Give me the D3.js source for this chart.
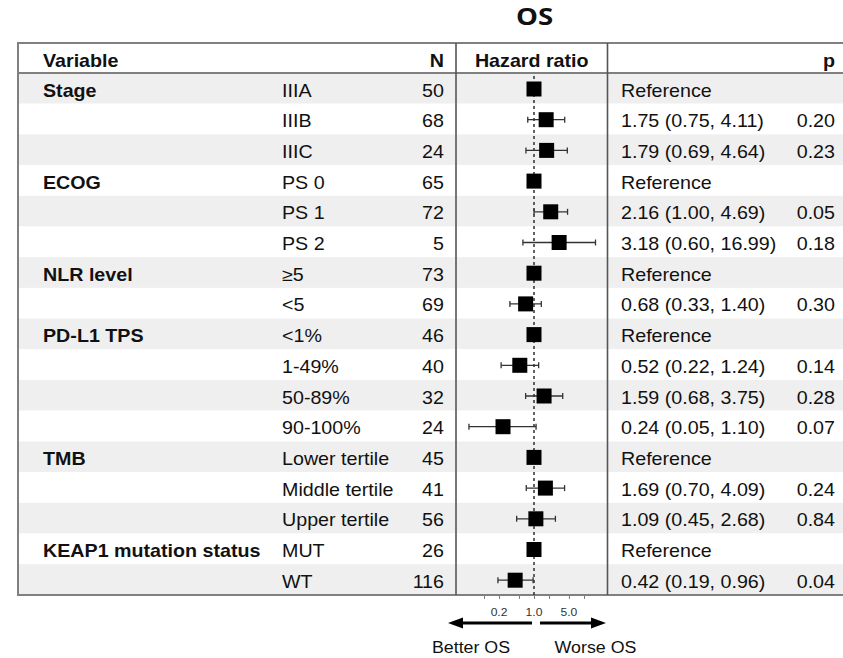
<!DOCTYPE html>
<html>
<head>
<meta charset="utf-8">
<script src="https://cdn.jsdelivr.net/npm/d3@7"></script>
<style>
  html, body { margin: 0; padding: 0; background: #fff; }
  svg { display: block; }
  text { font-family: "Liberation Sans", Arial, sans-serif; fill: #111; }
</style>
</head>
<body>
<svg id="chart" width="843" height="658"></svg>
<script>
// ---------------- data ----------------
const title = "OS";
const headerLabels = ["Variable", "N", "Hazard ratio", "p"];
const groupNames = ["Stage", "", "", "ECOG", "", "", "NLR level", "", "PD-L1 TPS", "", "", "", "TMB", "", "", "KEAP1 mutation status", ""];
const levelNames = ["IIIA", "IIIB", "IIIC", "PS 0", "PS 1", "PS 2", "≥5", "<5", "<1%", "1-49%", "50-89%", "90-100%", "Lower tertile", "Middle tertile", "Upper tertile", "MUT", "WT"];
const nValues = [50, 68, 24, 65, 72, 5, 73, 69, 46, 40, 32, 24, 45, 41, 56, 26, 116];
const hrValues = [1, 1.75, 1.79, 1, 2.16, 3.18, 1, 0.68, 1, 0.52, 1.59, 0.24, 1, 1.69, 1.09, 1, 0.42];
const ciLow = [null, 0.75, 0.69, null, 1.00, 0.60, null, 0.33, null, 0.22, 0.68, 0.05, null, 0.70, 0.45, null, 0.19];
const ciHigh = [null, 4.11, 4.64, null, 4.69, 16.99, null, 1.40, null, 1.24, 3.75, 1.10, null, 4.09, 2.68, null, 0.96];
const pValues = ["", "0.20", "0.23", "", "0.05", "0.18", "", "0.30", "", "0.14", "0.28", "0.07", "", "0.24", "0.84", "", "0.04"];
const tickValues = [0.1, 0.2, 0.5, 1, 2, 5, 10];
const tickLabels = ["0.2", "1.0", "5.0"];
const labelledTicks = [0.2, 1, 5];
const directionLabels = ["Better OS", "Worse OS"];

// ---------------- layout ----------------
const svg = d3.select("#chart");
const W = 843;
const tableLeft = 18, tableTop = 43, headerH = 30, rowH = 30.7;
const nRows = levelNames.length;
const tableBottom = tableTop + headerH + nRows * rowH;
const div1 = 456, div2 = 607.5;
const sx = 1.125;           // horizontal stretch of the text
const fs = 17.5;

const x = d3.scaleLog().domain([0.1, 10]).range([484, 584]);
const rowY = d3.scaleLinear().domain([0, nRows]).range([tableTop + headerH, tableBottom]);

function txt(g, xx, yy, s, anchor, weight, size, scale) {
  return g.append("text")
    .attr("transform", `translate(${xx},${yy}) scale(${scale || sx},1)`)
    .attr("text-anchor", anchor || "start")
    .style("font-size", (size || fs) + "px")
    .style("font-weight", weight || "normal")
    .text(s);
}

// row shading
svg.append("g").selectAll("rect").data(d3.range(nRows)).join("rect")
  .attr("x", tableLeft).attr("width", W - tableLeft)
  .attr("y", i => rowY(i)).attr("height", rowH)
  .attr("fill", i => i % 2 === 0 ? "#efefef" : "#ffffff");

// title
svg.append("text")
  .attr("transform", `translate(534.5,25) scale(1.15,1)`)
  .attr("text-anchor", "middle")
  .style("font-family", "'Open Sans', sans-serif")
  .style("font-weight", "bold").style("font-size", "24px")
  .text(title);

// header text
const hg = svg.append("g");
const headerBase = tableTop + 23.7;
txt(hg, 43, headerBase, headerLabels[0], "start", "bold");
txt(hg, 444, headerBase, headerLabels[1], "end", "bold");
txt(hg, (div1 + div2) / 2, headerBase, headerLabels[2], "middle", "bold");
txt(hg, 835, headerBase, headerLabels[3], "end", "bold");

// table text
const tg = svg.append("g");
d3.range(nRows).forEach(i => {
  const base = rowY(i) + 23.5;
  if (groupNames[i]) txt(tg, 43, base, groupNames[i], "start", "bold");
  txt(tg, 282, base, levelNames[i], "start");
  txt(tg, 444, base, String(nValues[i]), "end");
  if (ciLow[i] === null) {
    txt(tg, 621, base, "Reference", "start");
  } else {
    const f = d3.format(".2f");
    txt(tg, 621, base, `${f(hrValues[i])} (${f(ciLow[i])}, ${f(ciHigh[i])})`, "start");
    txt(tg, 835, base, pValues[i], "end");
  }
});

// table lines
const lg = svg.append("g").attr("fill", "none");
lg.append("line").attr("x1", tableLeft).attr("x2", W).attr("y1", tableTop).attr("y2", tableTop)
  .attr("stroke", "#808080").attr("stroke-width", 2);
lg.append("line").attr("x1", tableLeft).attr("x2", W).attr("y1", tableTop + headerH).attr("y2", tableTop + headerH)
  .attr("stroke", "#808080").attr("stroke-width", 2);
lg.append("line").attr("x1", tableLeft).attr("x2", W).attr("y1", tableBottom).attr("y2", tableBottom)
  .attr("stroke", "#808080").attr("stroke-width", 2);
lg.append("line").attr("x1", tableLeft).attr("x2", tableLeft).attr("y1", tableTop - 1).attr("y2", tableBottom + 1)
  .attr("stroke", "#808080").attr("stroke-width", 2);
[div1, div2].forEach(dx => {
  lg.append("line").attr("x1", dx).attr("x2", dx).attr("y1", tableTop).attr("y2", tableBottom)
    .attr("stroke", "#555").attr("stroke-width", 1.6);
});

// reference dashed line
svg.append("line")
  .attr("x1", x(1)).attr("x2", x(1))
  .attr("y1", tableTop + headerH + 3).attr("y2", tableBottom + 3)
  .attr("stroke", "#222").attr("stroke-width", 1.4)
  .attr("stroke-dasharray", "3,3");

// CIs and squares
const fg = svg.append("g");
const sq = 15, cap = 6;
d3.range(nRows).forEach(i => {
  const cy = rowY(i) + 16;
  if (ciLow[i] !== null) {
    fg.append("line").attr("x1", x(ciLow[i])).attr("x2", x(ciHigh[i]))
      .attr("y1", cy).attr("y2", cy).attr("stroke", "#333").attr("stroke-width", 1.3);
    [ciLow[i], ciHigh[i]].forEach(v => {
      fg.append("line").attr("x1", x(v)).attr("x2", x(v))
        .attr("y1", cy - cap / 2).attr("y2", cy + cap / 2)
        .attr("stroke", "#333").attr("stroke-width", 1.3);
    });
  }
  fg.append("rect").attr("x", x(hrValues[i]) - sq / 2).attr("y", cy - sq / 2)
    .attr("width", sq).attr("height", sq).attr("fill", "#000");
});

// axis
const axis = d3.axisBottom(x).tickValues(tickValues).tickSize(3).tickFormat("");
const ag = svg.append("g").attr("transform", `translate(0,${tableBottom + 1})`).call(axis);
ag.select(".domain").remove();
ag.selectAll(".tick line").attr("stroke", "#777");
const lab = svg.append("g");
labelledTicks.forEach((v, k) => {
  lab.append("text")
    .attr("transform", `translate(${x(v)},616) scale(1.1,1)`)
    .attr("text-anchor", "middle").style("font-size", "11px").style("fill", "#333")
    .text(tickLabels[k]);
});

// arrows
const arrowY = 623;
const ar = svg.append("g");
ar.append("line").attr("x1", 532).attr("x2", 460).attr("y1", arrowY).attr("y2", arrowY)
  .attr("stroke", "#000").attr("stroke-width", 3);
ar.append("path").attr("d", `M448,${arrowY} L463,${arrowY - 5.5} L463,${arrowY + 5.5} Z`).attr("fill", "#000");
ar.append("line").attr("x1", 540).attr("x2", 594).attr("y1", arrowY).attr("y2", arrowY)
  .attr("stroke", "#000").attr("stroke-width", 3);
ar.append("path").attr("d", `M606,${arrowY} L591,${arrowY - 5.5} L591,${arrowY + 5.5} Z`).attr("fill", "#000");

txt(svg, 471, 653, directionLabels[0], "middle", "normal", 16.5, 1.08);
txt(svg, 595.5, 653, directionLabels[1], "middle", "normal", 16.5, 1.08);
</script>
</body>
</html>
